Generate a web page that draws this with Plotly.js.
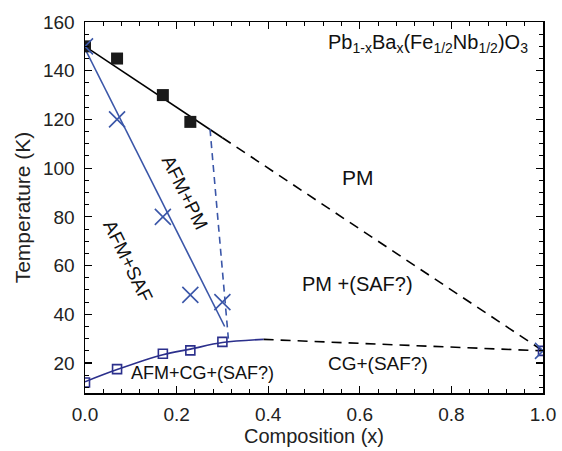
<!DOCTYPE html>
<html><head><meta charset="utf-8">
<script src="https://cdn.plot.ly/plotly-3.0.1.min.js"></script>
<style>html,body{margin:0;padding:0;background:#fff}#plot{width:562px;height:451px}</style>
</head><body><div id="plot"></div>
<script>
// Néel temperature (black squares)
const tnX = [0, 0.07, 0.17, 0.23];
const tnY = [150, 145, 130, 119];
// AFM/PM transition (blue crosses)
const crossX = [0, 0.07, 0.17, 0.23, 0.30, 1.0];
const crossY = [150, 120, 80, 48, 45, 25];
// CG transition (open squares)
const cgX = [0, 0.07, 0.17, 0.23, 0.30, 1.0];
const cgY = [12, 17.5, 23.8, 25.2, 28.7, 25];
// boundary lines
const tnSolidX = [0, 0.30], tnSolidY = [150, 112.5];
const tnDashX = [0.30, 1.0], tnDashY = [112.5, 25];
const afmLineX = [0, 0.305], afmLineY = [149, 35];
const pmBoundX = [0.273, 0.313], pmBoundY = [116, 30];
const cgFitX = [0, 0.07, 0.17, 0.23, 0.30, 0.39];
const cgFitY = [12.3, 17.3, 23.4, 25.7, 28.4, 29.7];
const cgDashX = [0.39, 1.0], cgDashY = [29.7, 25];
// region labels
const labels = [
  {text: 'PM', x: 0.596, y: 96, angle: 0, size: 21},
  {text: 'PM +(SAF?)', x: 0.596, y: 52.5, angle: 0, size: 20},
  {text: 'CG+(SAF?)', x: 0.64, y: 20, angle: 0, size: 19},
  {text: 'AFM+CG+(SAF?)', x: 0.257, y: 15.8, angle: 0, size: 18},
  {text: 'AFM+SAF', x: 0.093, y: 62, angle: 64, size: 19},
  {text: 'AFM+PM', x: 0.218, y: 90, angle: 63.5, size: 19},
  {text: 'Pb<sub>1-x</sub>Ba<sub>x</sub>(Fe<sub>1/2</sub>Nb<sub>1/2</sub>)O<sub>3</sub>', x: 0.749, y: 151, angle: 0, size: 20}
];

const FONT = 'Liberation Sans, Arial, sans-serif';
const BLUE = '#3a56a8';
const NAVY = '#2b2f8c';

const traces = [
  {x: tnSolidX, y: tnSolidY, mode: 'lines', line: {color: '#000', width: 1.6}},
  {x: tnDashX, y: tnDashY, mode: 'lines', line: {color: '#000', width: 1.6, dash: '10px,7px'}},
  {x: afmLineX, y: afmLineY, mode: 'lines', line: {color: BLUE, width: 1.6}},
  {x: pmBoundX, y: pmBoundY, mode: 'lines', line: {color: BLUE, width: 1.6, dash: '7px,5px'}},
  {x: cgFitX, y: cgFitY, mode: 'lines', line: {color: NAVY, width: 1.6, shape: 'spline'}},
  {x: cgDashX, y: cgDashY, mode: 'lines', line: {color: '#000', width: 1.6, dash: '10px,7px'}},
  {x: tnX, y: tnY, mode: 'markers', marker: {symbol: 'square', size: 12, color: '#1a1a1a'}},
  {x: cgX, y: cgY, mode: 'markers', marker: {symbol: 'square-open', size: 9, color: NAVY, line: {width: 1.6}}},
  {x: crossX, y: crossY, mode: 'markers', marker: {symbol: 'x-thin-open', size: 16, color: BLUE, line: {width: 1.6, color: BLUE}}}
];

const axisCommon = {
  showline: true, linecolor: '#000', linewidth: 1.5, mirror: 'ticks',
  ticks: 'inside', ticklen: 7, tickwidth: 1.2, tickcolor: '#000',
  showgrid: false, zeroline: false,
  tickfont: {family: FONT, size: 19, color: '#222'}
};

const layout = {
  width: 562, height: 451,
  margin: {l: 85, r: 19, t: 22, b: 58},
  paper_bgcolor: '#fff', plot_bgcolor: '#fff',
  showlegend: false,
  xaxis: Object.assign({}, axisCommon, {
    range: [0, 1.0], dtick: 0.2, tickformat: '.1f', ticklabelstandoff: 4,
    minor: {dtick: 0.04, ticks: 'inside', ticklen: 4, tickcolor: '#000', tickwidth: 1},
    title: {text: 'Composition (x)', font: {family: FONT, size: 20, color: '#222'}, standoff: 3}
  }),
  yaxis: Object.assign({}, axisCommon, {
    range: [7.7, 160], tick0: 0, dtick: 20, ticklabelstandoff: 5,
    minor: {dtick: 5, tick0: 0, ticks: 'inside', ticklen: 4, tickcolor: '#000', tickwidth: 1},
    title: {text: 'Temperature (K)', font: {family: FONT, size: 21, color: '#222'}, standoff: 6}
  }),
  annotations: labels.map(l => ({
    text: l.text, x: l.x, y: l.y, xref: 'x', yref: 'y', showarrow: false,
    textangle: l.angle, font: {family: FONT, size: l.size, color: '#111'}
  }))
};

Plotly.newPlot('plot', traces, layout, {staticPlot: true, displayModeBar: false});
</script></body></html>
